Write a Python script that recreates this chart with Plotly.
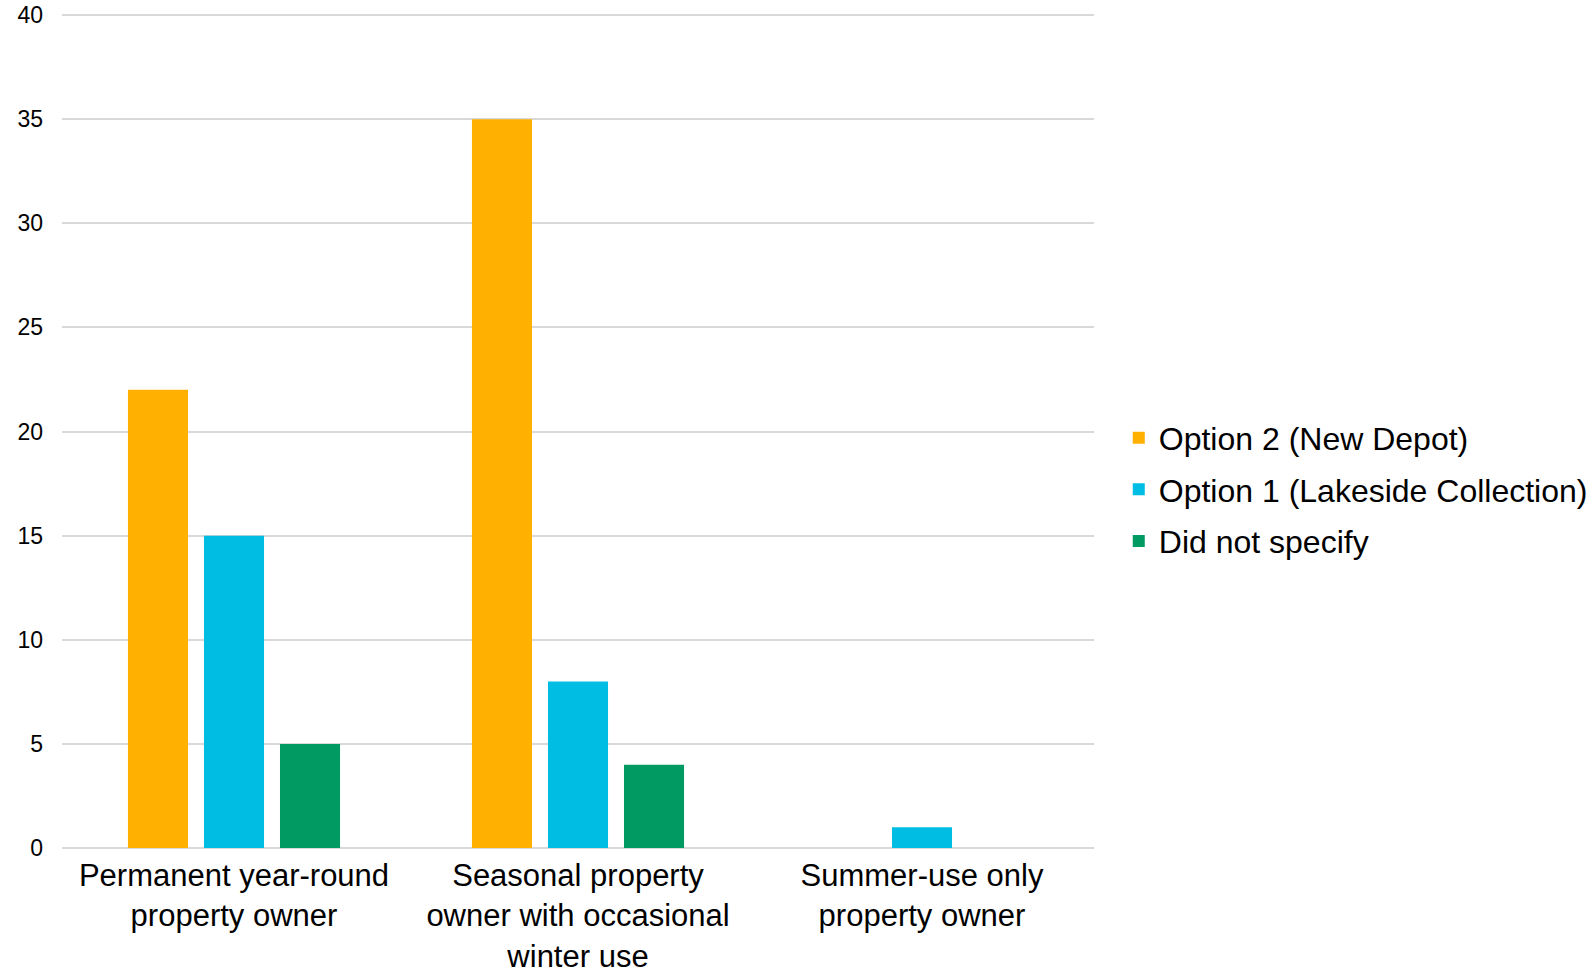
import plotly.graph_objects as go

categories = ["Permanent year-round<br>property owner",
              "Seasonal property<br>owner with occasional<br>winter use",
              "Summer-use only<br>property owner"]
series_names = ["Option 2 (New Depot)", "Option 1 (Lakeside Collection)", "Did not specify"]
option2 = [22, 35, 0]
option1 = [15, 8, 1]
not_specified = [5, 4, 0]
colors = ["#FFB000", "#00BDE3", "#009A62"]
y_ticks = [0, 5, 10, 15, 20, 25, 30, 35, 40]

fig = go.Figure()
for name, vals, col in zip(series_names, [option2, option1, not_specified], colors):
    fig.add_trace(go.Bar(x=categories, y=vals, name=name, legendgroup=name,
                         marker=dict(color=col, line=dict(width=0))))

fig.update_layout(
    width=1594, height=975,
    margin=dict(l=62, r=500, t=14, b=127, autoexpand=False),
    paper_bgcolor="white", plot_bgcolor="white",
    barmode="group", bargap=0.337, bargroupgap=0.21,
    font=dict(family="Liberation Sans, Arial, sans-serif", color="#000000"),
    legend=dict(x=1.024, xanchor="left", y=0.43, yanchor="middle",
                font=dict(size=32), tracegroupgap=7, itemwidth=30),
    showlegend=True,
)
fig.update_yaxes(range=[0, 40.05], tickvals=y_ticks, showgrid=True, gridcolor="#D9D9D9",
                 gridwidth=2, zeroline=True, zerolinecolor="#D9D9D9", zerolinewidth=2,
                 showline=False, tickfont=dict(size=23), ticklabelstandoff=18,
                 automargin=False)
fig.update_xaxes(showline=False, tickfont=dict(size=31), ticks="", showgrid=False,
                 ticklabelstandoff=6, automargin=False)

fig.write_html("out.html", config={"displayModeBar": False},
               post_script="document.body.style.margin='0';document.body.style.overflow='hidden';")
